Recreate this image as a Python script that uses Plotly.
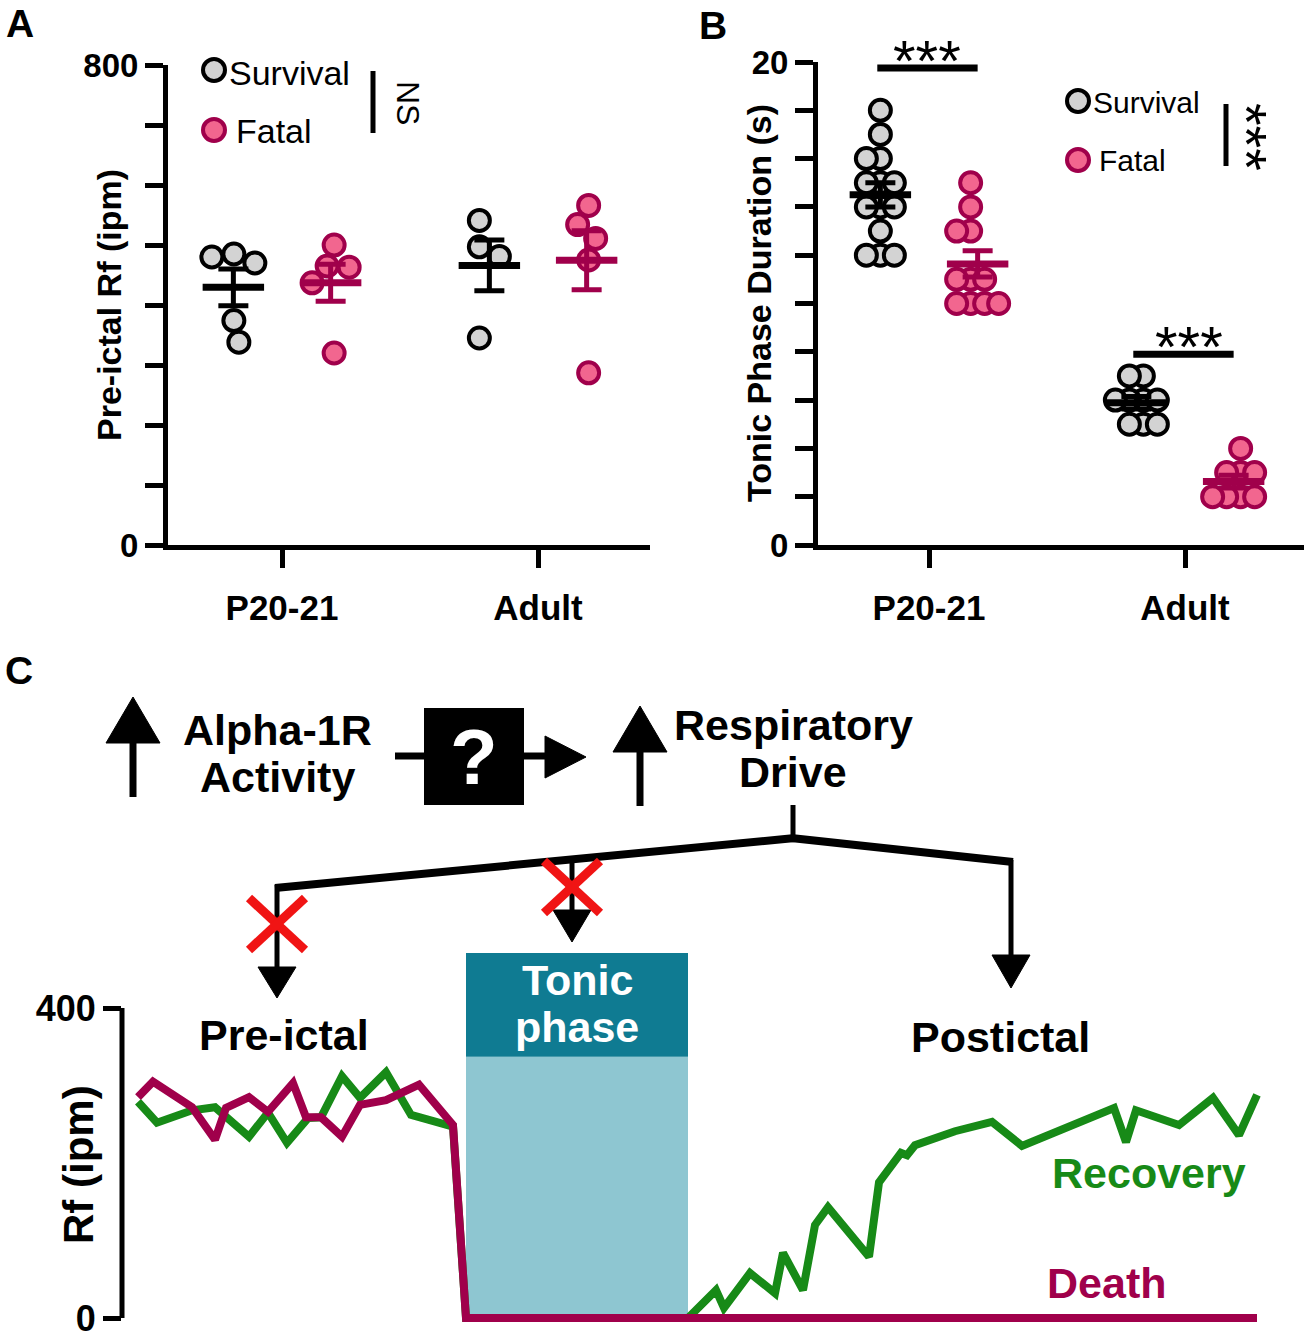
import numpy as np
import plotly.graph_objects as go

W, H = 1304, 1338
FONT = "Liberation Sans, Arial, sans-serif"
BLACK = "#000000"
GREY = "#D3D3D3"
PINK = "#F2668F"
MAROON = "#A0004B"
GREEN = "#178A17"
TEAL_DARK = "#0F7B92"
TEAL_LIGHT = "#8EC6D1"
RED = "#F01414"

# ---------------- data ----------------
categories = ["P20-21", "Adult"]
legend_names = ["Survival", "Fatal"]

# Panel A: pre-ictal respiratory frequency (ipm)
a_p20_survival = [485, 480, 470, 374, 338]
a_p20_fatal = [500, 465, 463, 437, 320]
a_adult_survival = [541, 497, 481, 345]
a_adult_fatal = [566, 534, 511, 475, 287]
a_yticks = list(range(0, 801, 100))

# Panel B: tonic phase duration (s)
b_p20_survival = [18, 17, 16, 16, 15, 15, 15, 14, 14, 14, 13, 12, 12, 12]
b_p20_fatal = [15, 14, 13, 13, 11, 11, 11, 10, 10, 10, 10]
b_adult_survival = [7, 7, 6, 6, 6, 6, 5, 5, 5]
b_adult_fatal = [4, 3, 3, 3, 2, 2, 2, 2]
b_yticks = list(range(0, 21, 2))

# Panel C: schematic Rf traces (time in arbitrary units, Rf in ipm)
c_recovery_t = [1.6, 3.5, 7.0, 9.3, 12.7, 14.6, 16.5, 18.6, 19.9, 22.0, 23.8, 26.4, 28.9, 33.1,
                34.4, 56.6, 59.4, 60.2, 62.8, 65.3, 66.1, 68.1, 69.3, 70.6, 74.7, 75.7, 77.9,
                78.5, 79.3, 83.3, 87.0, 90.0, 99.2, 100.4, 101.4, 105.7, 109.1, 111.7, 113.5]
c_recovery_rf = [279, 252, 268, 272, 234, 265, 226, 258, 259, 312, 284, 317, 262, 247,
                 0, 0, 36, 13, 58, 32, 84, 36, 120, 143, 79, 175, 213,
                 210, 223, 241, 253, 222, 271, 227, 268, 249, 284, 236, 288]
c_death_t = [1.6, 3.1, 7.0, 9.3, 10.4, 12.7, 14.6, 17.1, 18.4, 19.9, 22.0, 23.8, 26.4, 29.7,
             33.1, 34.4, 113.5]
c_death_rf = [285, 305, 272, 230, 271, 285, 266, 303, 259, 259, 234, 275, 281, 301,
              249, 0, 0]
tonic_start, tonic_end = 34.4, 56.6
c_yticks = [0, 400]


# ---------------- helpers ----------------
def fx(px):
    return px / W


def fy(py):
    return 1 - py / H


def swarm_offsets(vals, ppu, d):
    """simple beeswarm: offsets in pixels"""
    vals = np.asarray(vals, dtype=float)
    order = np.argsort(-vals, kind="stable")
    placed = []
    offs = np.zeros(len(vals))
    for k, i in enumerate(order):
        y = vals[i] * ppu
        best = None
        for step in range(0, 400):
            cands = [0] if step == 0 else ([step, -step] if k % 2 == 0 else [-step, step])
            for c in cands:
                if all((c - px) ** 2 + (y - py) ** 2 >= d * d for px, py in placed):
                    best = c
                    break
            if best is not None:
                break
        placed.append((best, y))
        offs[i] = best
    offs -= (offs.max() + offs.min()) / 2
    return offs


PX_X = 256.0
SIDE = 0.19
fig = go.Figure()


def add_group(vals, center, fill, edge, xa, ya, ppu, d):
    offs = swarm_offsets(vals, ppu, d) / PX_X
    fig.add_trace(go.Scatter(
        x=center + offs, y=vals, mode="markers", xaxis=xa, yaxis=ya,
        marker=dict(size=21, color=fill, line=dict(color=edge, width=4)),
        showlegend=False, hoverinfo="skip"))
    m = float(np.mean(vals))
    sem = float(np.std(vals, ddof=1) / np.sqrt(len(vals)))
    fig.add_trace(go.Scatter(
        x=[center], y=[m], mode="markers", xaxis=xa, yaxis=ya,
        marker=dict(size=1, color="rgba(0,0,0,0)"),
        error_y=dict(type="data", array=[sem], width=15, thickness=5, color=edge),
        showlegend=False, hoverinfo="skip"))
    fig.add_trace(go.Scatter(
        x=[center - 0.12, center + 0.12], y=[m, m], mode="lines", xaxis=xa, yaxis=ya,
        line=dict(color=edge, width=7), showlegend=False, hoverinfo="skip"))


a_sets = [(a_p20_survival, a_p20_fatal), (a_adult_survival, a_adult_fatal)]
b_sets = [(b_p20_survival, b_p20_fatal), (b_adult_survival, b_adult_fatal)]
for ci in range(len(categories)):
    s, f = a_sets[ci]
    add_group(s, ci - SIDE, GREY, BLACK, "x", "y", 480 / 800, 22)
    add_group(f, ci + SIDE, PINK, MAROON, "x", "y", 480 / 800, 22)
    s, f = b_sets[ci]
    add_group(s, ci - SIDE, GREY, BLACK, "x2", "y2", 483 / 20, 14)
    add_group(f, ci + SIDE, PINK, MAROON, "x2", "y2", 483 / 20, 14)

# Panel C traces
fig.add_trace(go.Scatter(x=c_recovery_t, y=c_recovery_rf, mode="lines", xaxis="x3", yaxis="y3",
                         line=dict(color=GREEN, width=8), showlegend=False, hoverinfo="skip"))
fig.add_trace(go.Scatter(x=c_death_t, y=c_death_rf, mode="lines", xaxis="x3", yaxis="y3",
                         line=dict(color=MAROON, width=8), showlegend=False, hoverinfo="skip"))

# ---------------- axes ----------------
tickfont = dict(family=FONT, size=33, color=BLACK, weight="bold")
xtickfont = dict(family=FONT, size=35, color=BLACK, weight="bold")


def xax(dom, rng, anchor):
    return dict(domain=dom, range=rng, anchor=anchor, showline=True, linewidth=5, linecolor=BLACK,
                ticks="outside", ticklen=18, tickwidth=5, tickcolor=BLACK,
                tickvals=list(range(len(categories))), ticktext=categories,
                tickfont=xtickfont, ticklabelstandoff=10, showgrid=False, zeroline=False,
                fixedrange=True, automargin=False)


def yax(dom, rng, anchor, vals):
    txt = [str(v) if v in (vals[0], vals[-1]) else "" for v in vals]
    return dict(domain=dom, range=rng, anchor=anchor, showline=True, linewidth=5, linecolor=BLACK,
                ticks="outside", ticklen=18, tickwidth=5, tickcolor=BLACK,
                tickvals=vals, ticktext=txt, tickfont=tickfont,
                showgrid=False, zeroline=False, fixedrange=True, automargin=False)


ppu_c = 310 / 400.0
c_lo, c_hi = -10, 480
layout = dict(
    width=W, height=H, margin=dict(l=0, r=0, t=0, b=0, pad=0), autosize=False,
    paper_bgcolor="white", plot_bgcolor="rgba(0,0,0,0)",
    font=dict(family=FONT, color=BLACK),
    xaxis=xax([fx(168), fx(650)], [-114 / PX_X, 368 / PX_X], "y"),
    yaxis=yax([fy(545), fy(65)], [0, 800], "x", a_yticks),
    xaxis2=xax([fx(818), fx(1304)], [-111 / PX_X, 375 / PX_X], "y2"),
    yaxis2=yax([fy(545), fy(62)], [0, 20], "x2", b_yticks),
    xaxis3=dict(domain=[fx(122), fx(1290)], range=[0, 116.8], anchor="y3", visible=False,
                fixedrange=True, automargin=False),
    yaxis3=dict(domain=[fy(1318 - c_lo * ppu_c), fy(1318 - c_hi * ppu_c)], range=[c_lo, c_hi],
                anchor="x3", showline=False, ticks="outside", ticklen=18, tickwidth=5,
                tickcolor=BLACK, tickvals=c_yticks, ticktext=[str(v) for v in c_yticks],
                tickfont=dict(family=FONT, size=36, color=BLACK, weight="bold"),
                ticklabeloverflow="allow",
                showgrid=False, zeroline=False, fixedrange=True, automargin=False),
)
fig.update_layout(**layout)

# ---------------- shapes ----------------
shapes = []


def seg(x0, y0, x1, y1, w, color=BLACK):
    shapes.append(dict(type="line", xref="paper", yref="paper", x0=fx(x0), y0=fy(y0),
                       x1=fx(x1), y1=fy(y1), line=dict(color=color, width=w)))


def poly(pts, color=BLACK):
    path = "M " + " L ".join(f"{fx(x)},{fy(y)}" for x, y in pts) + " Z"
    shapes.append(dict(type="path", xref="paper", yref="paper", path=path,
                       fillcolor=color, line=dict(color=color, width=1)))


def circ(cx, cy, r, fill, edge):
    shapes.append(dict(type="circle", xref="paper", yref="paper", xsizemode="pixel",
                       ysizemode="pixel", xanchor=fx(cx), yanchor=fy(cy), x0=-r, x1=r,
                       y0=-r, y1=r, fillcolor=fill, line=dict(color=edge, width=4)))


# tonic phase box (data-anchored in time)
shapes.append(dict(type="rect", xref="x3", yref="y3", x0=tonic_start, x1=tonic_end,
                   y0=0, y1=337, fillcolor=TEAL_LIGHT, line=dict(width=0), layer="below"))
shapes.append(dict(type="rect", xref="x3", yref="y3", x0=tonic_start, x1=tonic_end,
                   y0=337, y1=471, fillcolor=TEAL_DARK, line=dict(width=0), layer="below"))
# panel C y-axis line (0..400)
shapes.append(dict(type="line", xref="paper", yref="y3", x0=fx(122), x1=fx(122), y0=0, y1=400,
                   line=dict(color=BLACK, width=5)))

# significance bars panel B
shapes.append(dict(type="line", xref="x2", yref="y2", x0=-SIDE - 0.012, x1=SIDE, y0=19.75,
                   y1=19.75, line=dict(color=BLACK, width=7)))
shapes.append(dict(type="line", xref="x2", yref="y2", x0=1 - SIDE - 0.012, x1=1 + SIDE, y0=7.9,
                   y1=7.9, line=dict(color=BLACK, width=7)))

# legends
circ(214, 70, 11, GREY, BLACK)
circ(214, 130, 11, PINK, MAROON)
seg(373, 71, 373, 133, 5)
circ(1078, 101, 11, GREY, BLACK)
circ(1078, 160, 11, PINK, MAROON)
seg(1226, 104, 1226, 166, 5)

# diagram: up arrows
seg(133, 797, 133, 740, 7)
poly([(106, 743), (160, 743), (133, 697)])
seg(640, 806, 640, 748, 7)
poly([(613, 752), (667, 752), (640, 706)])
# ? box and arrow
seg(395, 756, 426, 756, 7)
shapes.append(dict(type="rect", xref="paper", yref="paper", x0=fx(424), x1=fx(524), y0=fy(805),
                   y1=fy(708), fillcolor=BLACK, line=dict(width=0)))
seg(522, 756, 548, 756, 7)
poly([(545, 736), (586, 757), (545, 778)])
# tree
seg(793, 805, 793, 840, 5)
seg(795, 838, 275, 888, 8)
seg(791, 838, 1013, 862, 8)
seg(277, 885, 277, 970, 5)
poly([(258, 967), (296, 967), (277, 998)])
seg(572, 858, 572, 912, 5)
poly([(553, 910), (591, 910), (572, 942)])
seg(1011, 860, 1011, 958, 5)
poly([(992, 955), (1030, 955), (1011, 988)])
# red crosses
for cx, cy in [(277, 924), (572, 887)]:
    seg(cx - 28, cy - 26, cx + 28, cy + 26, 9, RED)
    seg(cx - 28, cy + 26, cx + 28, cy - 26, 9, RED)

fig.update_layout(shapes=shapes)

# ---------------- annotations ----------------
anns = []


def ann(text, x, y, size, color=BLACK, bold=True, angle=0, xanchor="center", yanchor="middle"):
    anns.append(dict(text=text, x=fx(x), y=fy(y), xref="paper", yref="paper", showarrow=False,
                     font=dict(family=FONT, size=size, color=color,
                               weight="bold" if bold else "normal"),
                     textangle=angle, xanchor=xanchor, yanchor=yanchor))


ann("A", 20, 0, 39, yanchor="top")
ann("B", 713, 2, 39, yanchor="top")
ann("C", 19, 670, 39)
ann("Pre-ictal Rf (ipm)", 109, 305, 34, angle=-90)
ann("Tonic Phase Duration (s)", 759, 303, 34, angle=-90)
ann("Rf (ipm)", 78, 1165, 42, angle=-90)

ann(legend_names[0], 227, 73, 34, bold=False, xanchor="left")
ann(legend_names[1], 234, 131, 34, bold=False, xanchor="left")
ann("NS", 408, 103, 32, bold=False, angle=90)
ann(legend_names[0], 1091, 102, 30, bold=False, xanchor="left")
ann(legend_names[1], 1097, 161, 30, bold=False, xanchor="left")
ann("***", 1247, 137, 58, bold=False, angle=90)
ann("***", 927, 60, 58, bold=False)
ann("***", 1189, 346, 58, bold=False)

ann("Alpha-1R", 277, 730, 43)
ann("Activity", 277, 777, 43)
ann("Respiratory", 793, 725, 43)
ann("Drive", 793, 772, 43)
ann("?", 474, 757, 78, color="white")
ann("Pre-ictal", 284, 1035, 43)
ann("Tonic", 577, 980, 43, color="white")
ann("phase", 577, 1027, 43, color="white")
ann("Postictal", 1001, 1037, 43)
ann("Recovery", 1149, 1173, 43, color=GREEN)
ann("Death", 1106, 1283, 43, color=MAROON)

fig.update_layout(annotations=anns)
fig.write_html(
    "out.html",
    config={"displayModeBar": False, "responsive": False},
    post_script="document.body.style.margin='0';document.body.style.overflow='hidden';",
)
